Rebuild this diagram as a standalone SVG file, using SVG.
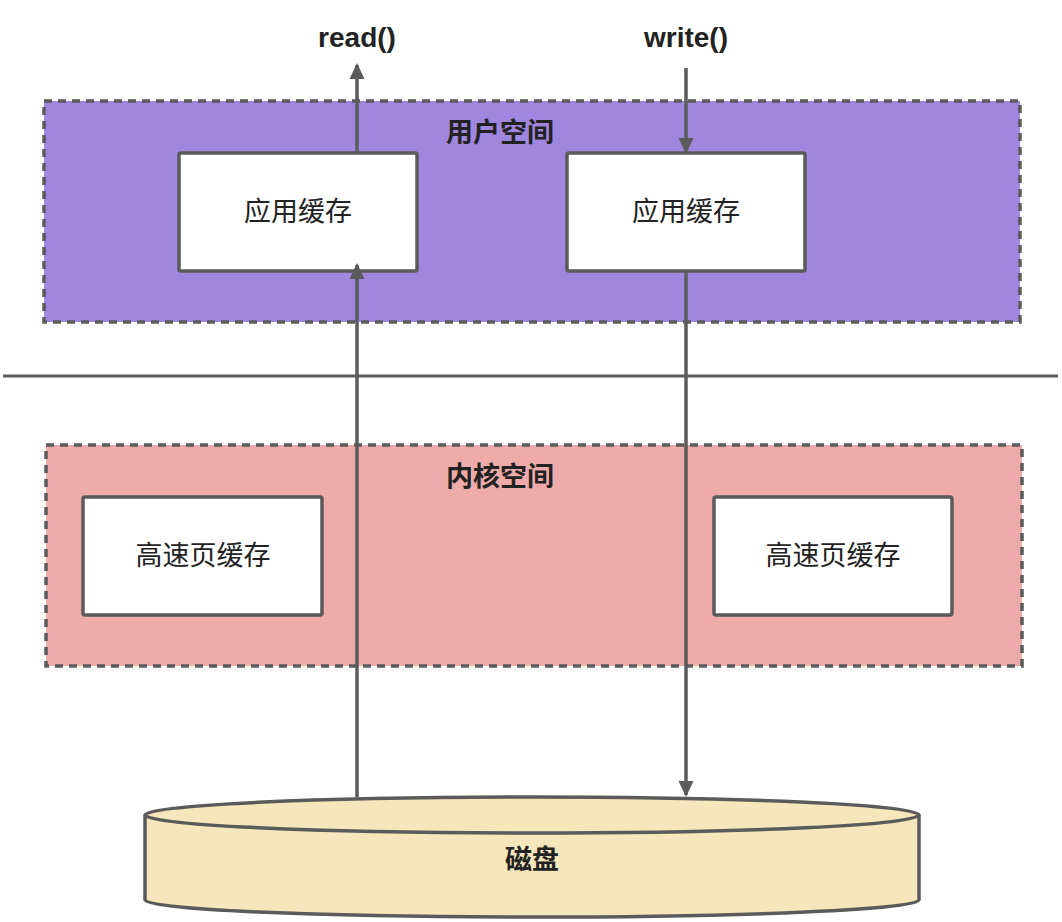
<svg xmlns="http://www.w3.org/2000/svg" width="1062" height="922" viewBox="0 0 1062 922">
<style>
.zone{stroke:#5b5b5b;stroke-width:3.5;stroke-dasharray:8 6}
.box{fill:#ffffff;stroke:#5b5b5b;stroke-width:3.5}
.lbl{font-family:"Liberation Sans","Noto Sans CJK SC",sans-serif;font-size:27px;fill:#222;text-anchor:middle;dominant-baseline:central}
.ttl{font-family:"Liberation Sans","Noto Sans CJK SC",sans-serif;font-size:27px;font-weight:bold;fill:#222;text-anchor:middle;dominant-baseline:central}
.fn{font-family:"Liberation Sans","Noto Sans CJK SC",sans-serif;font-size:28px;font-weight:bold;fill:#222;text-anchor:middle}
.conn{stroke:#5b5b5b;stroke-width:3.5;fill:none}
</style>
<defs>
<marker id="ah" markerWidth="16" markerHeight="16" refX="14" refY="8" orient="auto" markerUnits="userSpaceOnUse">
<path d="M0,0.5 L16,8 L0,15.5 Z" fill="#5b5b5b"/>
</marker>
</defs>
<rect width="1062" height="922" fill="#ffffff"/>
<g id="user-space">
<rect class="zone" x="44" y="101" width="976" height="221" fill="#9f86de"/>
<text class="ttl" x="500" y="133">用户空间</text>
</g>
<g id="kernel-space">
<rect class="zone" x="46" y="445" width="976" height="221" fill="#efaba9"/>
<text class="ttl" x="500" y="477">内核空间</text>
</g>
<g id="divider">
<line x1="3" y1="376" x2="1058" y2="376" stroke="#5b5b5b" stroke-width="3"/>
</g>
<g id="app-cache-1">
<rect class="box" x="179" y="153" width="238" height="118" rx="2"/>
<text class="lbl" x="298" y="212">应用缓存</text>
</g>
<g id="app-cache-2">
<rect class="box" x="567" y="153" width="238" height="118" rx="2"/>
<text class="lbl" x="686" y="212">应用缓存</text>
</g>
<g id="page-cache-1">
<rect class="box" x="83" y="497" width="239" height="118" rx="2"/>
<text class="lbl" x="203" y="556">高速页缓存</text>
</g>
<g id="page-cache-2">
<rect class="box" x="714" y="497" width="238" height="118" rx="2"/>
<text class="lbl" x="833" y="556">高速页缓存</text>
</g>
<g id="disk">
<path d="M145,815 L145,900 A387,17 0 0 0 919,900 L919,815" fill="#f6e6bb" stroke="#5b5b5b" stroke-width="3.5"/>
<ellipse cx="532" cy="815" rx="387" ry="18" fill="#f6e6bb" stroke="#5b5b5b" stroke-width="3.5"/>
<text class="ttl" x="532" y="860">磁盘</text>
</g>
<g id="read-label"><text class="fn" x="357" y="47">read()</text></g>
<g id="write-label"><text class="fn" x="686" y="47">write()</text></g>
<g id="connectors">
<line class="conn" x1="357" y1="153" x2="357" y2="65" marker-end="url(#ah)"/>
<line class="conn" x1="357" y1="797" x2="357" y2="265" marker-end="url(#ah)"/>
<line class="conn" x1="686" y1="68" x2="686" y2="152" marker-end="url(#ah)"/>
<line class="conn" x1="686" y1="271" x2="686" y2="795" marker-end="url(#ah)"/>
</g>
</svg>
